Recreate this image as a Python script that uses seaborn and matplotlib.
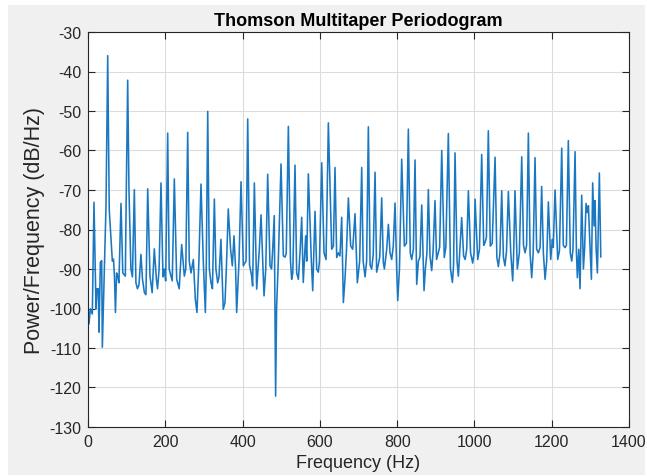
import matplotlib
matplotlib.use("Agg")
import numpy as np
import pandas as pd
import seaborn as sns
import matplotlib.pyplot as plt
from matplotlib.patches import Rectangle

# Spectrum vertices (Hz, dB/Hz), split into frequency bands
freq_band1 = [0, 2.6, 6, 11.2, 15.5, 20.7, 23.3, 26.7, 28.5, 32, 35.4, 37.1, 46.6, 51, 55, 63,
              66, 68.5, 71, 74, 77, 80, 85.4, 90, 96.6, 98.5, 102.7, 106, 111, 115, 119.9,
              124, 128, 132, 137, 141, 146, 150, 154.5, 160.4, 166, 171.6, 177, 180, 184,
              188.9, 194, 197.5, 201, 206.2, 210, 214.8, 218, 223.4, 229.5, 236, 242.4,
              249.3, 253, 258, 262, 266.6, 272.6, 277.8, 282, 287, 292.4, 298.5, 303.7, 306,
              309.8, 314, 318.3, 322, 327, 331, 335.6, 339, 344, 346, 350, 354.5, 358]
psd_band1 = [-99.3, -103.9, -100.1, -101.4, -73.1, -100.1, -95, -95, -106, -88.3, -87.9, -109.8,
             -74, -36, -75, -88, -87.5, -92, -101, -91, -91.8, -93.5, -73.4, -91, -91.8, -75,
             -42.2, -70, -90, -92, -69.9, -93.5, -95, -94, -86.3, -92.6, -96, -96.5, -69.7,
             -91.8, -96, -84.9, -92.6, -95, -90, -68.2, -92, -90, -93, -55.6, -90, -91.8,
             -93, -67.2, -92.6, -95, -83.8, -91.8, -90, -55.4, -88, -91, -87.6, -97.7, -101,
             -88, -68.5, -88.4, -101, -90, -50.1, -90, -93.5, -95, -72.3, -90, -93.5, -92,
             -82.5, -88.4, -100.2, -98.5, -90]

freq_band2 = [363, 369, 373.5, 377.8, 382, 384.7, 390.8, 396, 402, 406.3, 409, 413.3, 418,
              423.6, 426, 430.5, 436.5, 443.4, 447.8, 452, 455.5, 460, 465, 471, 475, 478,
              482, 485.5, 488, 492.6, 499.5, 505.5, 510, 513, 518.5, 524, 527, 530, 535.7,
              540, 544.4, 548.6, 553, 557, 563.3, 566, 570.2, 576, 578, 581.5, 587.5, 591.8,
              596, 599, 604.8, 610.8, 616, 622, 630.6, 635, 639.2, 643.6, 648, 652, 656.5,
              660.8, 665, 669, 673.8, 679.8, 685, 691, 697]
psd_band2 = [-74.8, -85, -89.2, -81.6, -90, -101, -88, -67.9, -89.2, -88.4, -88, -52, -89,
             -91.8, -94.3, -68.2, -95.1, -85, -76.3, -87.6, -96.8, -90, -66, -89.2, -90, -85,
             -76.5, -122.2, -100, -87.6, -63.4, -86.7, -87, -86, -53.9, -88, -92.6, -91,
             -63.7, -91, -92.6, -85.9, -76.9, -93.4, -81.6, -88, -65.9, -82.5, -88, -95.5,
             -75.4, -90, -90.8, -88, -63.1, -85.9, -87.6, -53, -85, -84.2, -64.3, -87.1,
             -85.9, -86.7, -76.9, -98.5, -92.6, -85, -72, -84.2, -85, -76, -93.5]

freq_band3 = [703, 708.3, 712, 717, 721, 725.5, 730, 734, 738, 742.8, 747, 751, 755, 760,
              764.3, 767, 773, 777.3, 781.6, 785.9, 790, 794.5, 798.8, 801.5, 806, 811.8,
              818.7, 824, 829, 834, 837.7, 842, 846.3, 850.6, 855, 859, 863.6, 869.6, 873,
              877, 880.8, 885, 889.4, 893, 898, 902, 906, 910, 915.4, 922, 926, 932.5, 938,
              943, 946, 949.8, 955, 958.4, 962.8, 967, 972, 976, 980, 984.3, 990, 995.5, 999,
              1001.6, 1008.5, 1013, 1018.8, 1024, 1027.5, 1031, 1036]
psd_band3 = [-88, -64.3, -88, -92, -88, -54, -89, -90, -86.5, -65.5, -90.8, -89, -87, -72,
             -88.4, -90, -85, -78.7, -85.9, -87.6, -84.2, -73.3, -90, -98, -90, -62.2, -84.2,
             -83.5, -54.6, -86, -87.6, -85, -62.4, -93.9, -88, -87, -73.8, -95.5, -90, -86,
             -69.9, -86.7, -90.4, -85.5, -72.7, -87.6, -86, -84.5, -60, -87.1, -84.5, -55.7,
             -90, -93.4, -89, -60.6, -88, -91.8, -84.2, -77, -86.7, -87.6, -85, -70.2, -85.9,
             -88.5, -86, -72.3, -87.6, -85, -61, -84, -83.3, -82, -55]

freq_band4 = [1041, 1046, 1053.4, 1058, 1062, 1066, 1070.6, 1075, 1079, 1083, 1087.8, 1094,
              1099, 1101.5, 1105, 1111, 1116.3, 1122.4, 1127, 1131, 1135, 1139.6, 1144,
              1148.2, 1152, 1156.8, 1161, 1165.5, 1170, 1174, 1178.4, 1182.8, 1187, 1191.3,
              1197.4, 1201.7, 1204, 1208.6, 1215.5, 1220, 1225.9, 1230, 1234.5, 1238, 1243,
              1248, 1251.8, 1255, 1260.4, 1264, 1266.4, 1270, 1273.3, 1277.6, 1282, 1285,
              1288.8, 1292.3, 1295, 1299.2, 1302.7, 1306, 1309.6, 1312, 1315, 1318.2, 1323.3,
              1327]
psd_band4 = [-84.2, -83.5, -61.7, -87, -89.4, -86, -70.2, -87, -89.2, -85.5, -70.4, -85.9,
             -93, -86, -70.2, -90, -85.9, -61.6, -84, -85.9, -84, -55.6, -86, -92.2, -86,
             -61.8, -85, -85.9, -84.5, -69.1, -85.9, -92.6, -88, -73, -87.6, -82.5, -84.5,
             -70, -87.6, -85.4, -59.4, -84, -84.6, -84, -57.5, -86, -88, -85, -60.3, -86,
             -92.2, -85, -95, -71.3, -90, -85, -73.4, -75.7, -74, -84.6, -92.6, -68.2, -79.1,
             -72.7, -85, -91, -65.7, -87]

x_ticks = [0, 200, 400, 600, 800, 1000, 1200, 1400]
y_ticks = [-130, -120, -110, -100, -90, -80, -70, -60, -50, -40, -30]

spectrum = pd.DataFrame({
    "Frequency (Hz)": freq_band1 + freq_band2 + freq_band3 + freq_band4,
    "Power/Frequency (dB/Hz)": psd_band1 + psd_band2 + psd_band3 + psd_band4,
})

sns.set_theme(style="white")
plt.rcParams["font.family"] = ["Liberation Sans", "DejaVu Sans"]
plt.rcParams["axes.unicode_minus"] = False

W, H = 647, 477
fig = plt.figure(figsize=(W / 100, H / 100), dpi=100, facecolor="white")
fig.patches.append(Rectangle((8 / W, 1 - 476 / H), (645 - 8) / W, (476 - 6) / H,
                             transform=fig.transFigure, facecolor="#f0f0f0",
                             edgecolor="none", zorder=-10))
ax = fig.add_axes([88 / W, 1 - 428 / H, (629 - 88) / W, (428 - 33) / H])
ax.set_facecolor("white")

sns.lineplot(data=spectrum, x="Frequency (Hz)", y="Power/Frequency (dB/Hz)",
             sort=False, estimator=None, color="#1a78c2", linewidth=1.15, ax=ax)

ax.set_xlim(0, 1400)
ax.set_ylim(-130, -30)
ax.set_xticks(x_ticks)
ax.set_yticks(y_ticks)
ax.set_xticklabels([str(v) for v in x_ticks])
ax.set_yticklabels([str(v) for v in y_ticks])
ax.grid(True, color="#dcdcdc", linewidth=0.8)
ax.set_axisbelow(True)
ax.tick_params(direction="in", length=5, width=0.8, top=True, right=True, bottom=True,
               left=True, color="#262626", labelcolor="#262626", labelsize=11.5)
ax.tick_params(axis="x", pad=5)
ax.tick_params(axis="y", pad=5)
for s in ax.spines.values():
    s.set_visible(True)
    s.set_color("#262626")
    s.set_linewidth(0.8)

ax.set_xlabel("Frequency (Hz)", fontsize=13, color="#262626", labelpad=4)
ax.set_ylabel("Power/Frequency (dB/Hz)", fontsize=15.5, color="#262626", labelpad=3)
ax.set_title("Thomson Multitaper Periodogram", fontsize=13, fontweight="bold",
             color="black", pad=5)

fig.savefig("out.png", dpi=100, facecolor=fig.get_facecolor())
